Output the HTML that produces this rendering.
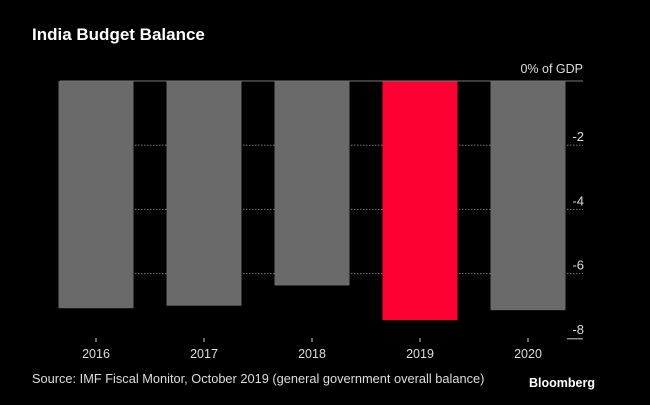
<!DOCTYPE html>
<html><head><meta charset="utf-8"><style>
body{margin:0;background:#000;width:650px;height:400px;overflow:hidden;font-family:"Liberation Sans",sans-serif}
</style></head><body>
<svg id="c" width="650" height="400">
<text x="32" y="40" fill="#fff" font-size="17" font-weight="bold">India Budget Balance</text>
<text x="583" y="73" fill="#ddd" font-size="12.5" text-anchor="end">0% of GDP</text>
<text x="32" y="383" fill="#ddd" font-size="12.8">Source: IMF Fiscal Monitor, October 2019 (general government overall balance)</text>
<text x="595" y="387" fill="#fff" font-size="12.5" font-weight="bold" text-anchor="end">Bloomberg</text>
<g id="g"></g>
</svg>
<script>
const categories=["2016","2017","2018","2019","2020"];
const values=[-7.08,-7.0,-6.37,-7.45,-7.14];
const highlight=[false,false,false,true,false];
const ticks=[-2,-4,-6,-8];
const tickLabels=["-2","-4","-6","-8"];
const NS="http://www.w3.org/2000/svg",g=document.getElementById('g');
const y=v=>81-v*32.1;
const xc=i=>96+i*108;
function mk(t,a){const e=document.createElementNS(NS,t);for(const k in a)e.setAttribute(k,a[k]);g.appendChild(e);return e;}
ticks.forEach((t,i)=>{
 if(t!==-8){const l=mk('line',{x1:60,x2:583,y1:y(t),y2:y(t),stroke:'#777','stroke-dasharray':'1.5,1.5'});
 
 }
 const tx=mk('text',{x:584,y:y(t)-4,fill:'#ddd','font-size':13,'text-anchor':'end'});tx.textContent=tickLabels[i];
 
 
});
const bl=mk('line',{x1:567,x2:583,y1:y(-8)+1,y2:y(-8)+1,stroke:'#ccc'});


categories.forEach((c,i)=>{
 const r=mk('rect',{x:xc(i)-37.5,y:y(0),width:75,height:y(values[i])-y(0),fill:highlight[i]?'#ff0033':'#6a6a6a'});
 
 
 const tk=mk('line',{x1:xc(i),x2:xc(i),y1:338,y2:342,stroke:'#ccc'});
 
 
 const t=mk('text',{x:xc(i),y:358,fill:'#ddd','font-size':12.5,'text-anchor':'middle'});t.textContent=c;
 
 
});
const z=mk('line',{x1:60,x2:583,y1:y(0),y2:y(0),stroke:'#777'});


</script>
</body></html>
